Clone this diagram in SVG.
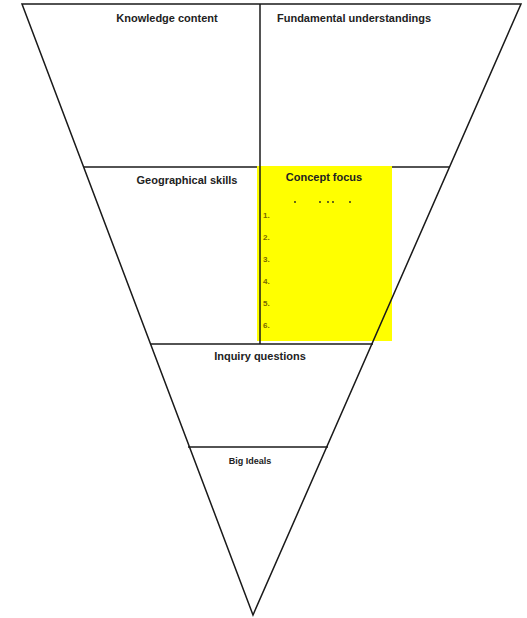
<svg xmlns="http://www.w3.org/2000/svg" width="527" height="618" viewBox="0 0 527 618">
<style>
.ln{stroke:#1a1a1a;stroke-width:1.5;fill:none}
.t{font-family:"Liberation Sans",Arial,sans-serif;font-weight:bold;font-size:11px;fill:#222}
.n{font-family:"Liberation Sans",Arial,sans-serif;font-weight:bold;font-size:8px;fill:#7a6a00}
.d{fill:#222}
</style>
<rect width="527" height="618" fill="#fff"/>
<g id="connectors">
<line class="ln" x1="84" y1="167" x2="450" y2="167"/>
</g>
<g id="concept-focus">
<rect x="257" y="166" width="135" height="175" fill="#ffff00"/>
<text class="t" x="324" y="181" text-anchor="middle">Concept focus</text>
<circle class="d" cx="295" cy="202" r="0.9"/>
<circle class="d" cx="320" cy="202" r="0.9"/>
<circle class="d" cx="328" cy="202" r="0.9"/>
<circle class="d" cx="333" cy="202" r="0.9"/>
<circle class="d" cx="350" cy="202" r="0.9"/>
<text class="n" x="263" y="218">1.</text>
<text class="n" x="263" y="240">2.</text>
<text class="n" x="263" y="262">3.</text>
<text class="n" x="263" y="284">4.</text>
<text class="n" x="263" y="306">5.</text>
<text class="n" x="263" y="328">6.</text>
</g>
<g id="frame">
<polygon class="ln" points="22,4 521,4 253,615"/>
<line class="ln" x1="260" y1="4" x2="260" y2="344"/>
<line class="ln" x1="150" y1="344" x2="373" y2="344"/>
<line class="ln" x1="188" y1="447" x2="328" y2="447"/>
</g>
<g id="knowledge-content"><text class="t" x="167" y="22" text-anchor="middle">Knowledge content</text></g>
<g id="fundamental-understandings"><text class="t" x="354" y="22" text-anchor="middle">Fundamental understandings</text></g>
<g id="geographical-skills"><text class="t" x="187" y="184" text-anchor="middle">Geographical skills</text></g>
<g id="inquiry-questions"><text class="t" x="260" y="360" text-anchor="middle">Inquiry questions</text></g>
<g id="big-ideals"><text class="t" x="250" y="464" text-anchor="middle" style="font-size:9px">Big Ideals</text></g>
</svg>
